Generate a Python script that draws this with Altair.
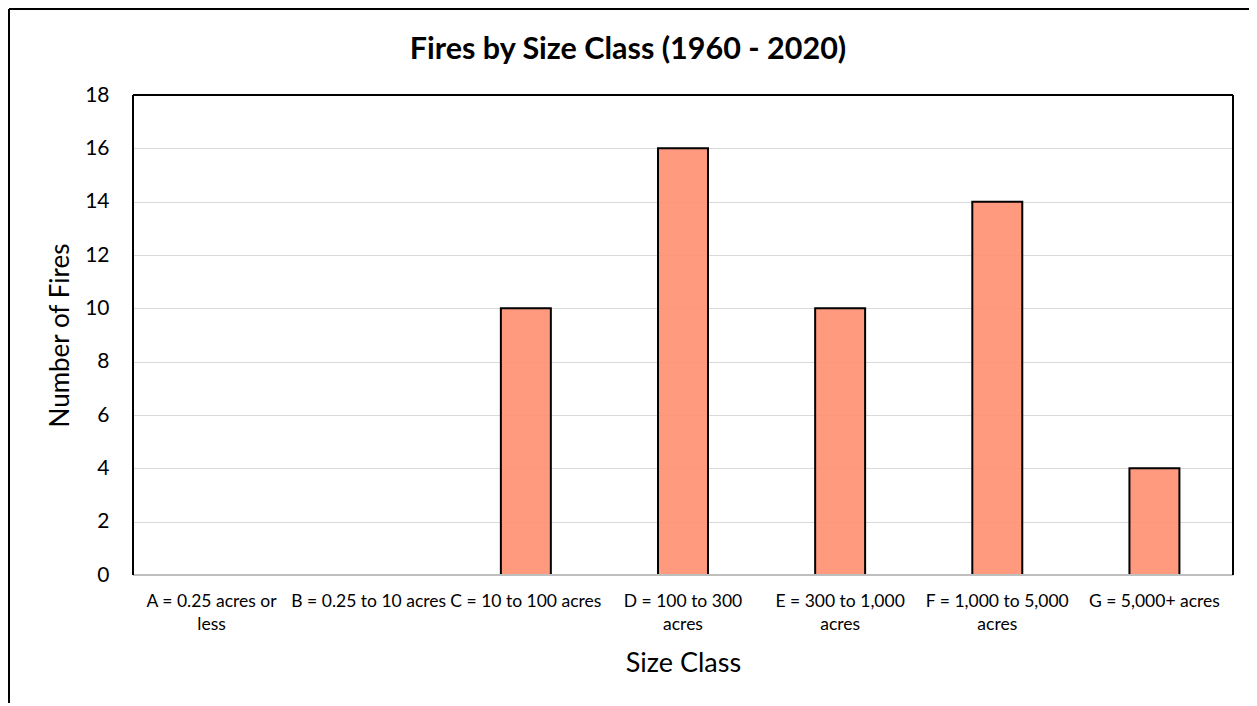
import json
import altair as alt
import pandas as pd

categories = [
    "A = 0.25 acres or less",
    "B = 0.25 to 10 acres",
    "C = 10 to 100 acres",
    "D = 100 to 300 acres",
    "E = 300 to 1,000 acres",
    "F = 1,000 to 5,000 acres",
    "G = 5,000+ acres",
]
label_lines = [
    ["A = 0.25 acres or", "less"],
    ["B = 0.25 to 10 acres"],
    ["C = 10 to 100 acres"],
    ["D = 100 to 300", "acres"],
    ["E = 300 to 1,000", "acres"],
    ["F = 1,000 to 5,000", "acres"],
    ["G = 5,000+ acres"],
]
fires = [0, 0, 10, 16, 10, 14, 4]
y_ticks = list(range(0, 19, 2))

df = pd.DataFrame({"Size Class": categories, "Number of Fires": fires})

expr = "datum.value"
for cat, lines in reversed(list(zip(categories, label_lines))):
    expr = f"datum.value == {json.dumps(cat)} ? {json.dumps(lines)} : ({expr})"

FONT = "Lato"
W, H = 1100, 480

x_enc = alt.X(
    "Size Class:N",
    sort=categories,
    scale=alt.Scale(paddingInner=0.682, paddingOuter=0.341),
    axis=alt.Axis(
        title="Size Class",
        labelAngle=0,
        labelExpr=expr,
        labelFontSize=17.5,
        labelFont=FONT,
        labelColor="#000000",
        labelPadding=17,
        labelLineHeight=23,
        labelLimit=400,
        labelOverlap=False,
        ticks=False,
        domain=False,
        titleFontSize=27,
        titleFont=FONT,
        titleFontWeight="normal",
        titleColor="#000000",
        titleX=W / 2,
        titleY=96,
        titleBaseline="alphabetic",
        titleAlign="center",
    ),
)
y_enc = alt.Y(
    "Number of Fires:Q",
    scale=alt.Scale(domain=[0, 18], nice=False),
    axis=alt.Axis(
        title="Number of Fires",
        values=y_ticks,
        labelFontSize=21,
        labelFont=FONT,
        labelColor="#000000",
        labelPadding=24,
        ticks=False,
        domain=False,
        grid=True,
        gridColor="#D9D9D9",
        gridWidth=1,
        titleFontSize=26,
        titleFont=FONT,
        titleFontWeight="normal",
        titleColor="#000000",
        titleAngle=-90,
        titleX=-65,
        titleY=H / 2,
        titleBaseline="alphabetic",
        titleAlign="center",
    ),
)

bars = alt.Chart(df).mark_bar(
    fill="#FF8F70", fillOpacity=0.9, stroke="#000000", strokeWidth=2
).encode(x=x_enc, y=y_enc)

baseline = alt.Chart(pd.DataFrame({"z": [0]})).mark_rule(
    color="#BFBFBF", strokeWidth=2
).encode(y=alt.datum(0))

frame = pd.DataFrame({"z": [0]})
black = dict(color="#000000", strokeWidth=2)
plot_top = alt.Chart(frame).mark_rule(**black).encode(
    x=alt.value(0), x2=alt.value(W), y=alt.value(0)
)
plot_left = alt.Chart(frame).mark_rule(**black).encode(
    x=alt.value(0), y=alt.value(0), y2=alt.value(H)
)
plot_right = alt.Chart(frame).mark_rule(**black).encode(
    x=alt.value(W), y=alt.value(0), y2=alt.value(H)
)
top_border = alt.Chart(frame).mark_rule(**black).encode(
    x=alt.value(-124), x2=alt.value(1116), y=alt.value(-86)
)
left_border = alt.Chart(frame).mark_rule(**black).encode(
    x=alt.value(-124), y=alt.value(-86), y2=alt.value(610)
)

chart = (
    alt.layer(bars, baseline, plot_top, plot_left, plot_right, top_border, left_border)
    .properties(
        width=W,
        height=H,
        autosize=alt.AutoSizeParams(type="none"),
        padding={"left": 125, "top": 87, "right": 16, "bottom": 128},
        background="#FFFFFF",
        title=alt.Title(
            "Fires by Size Class (1960 - 2020)",
            font=FONT,
            fontSize=30.5,
            fontWeight="bold",
            color="#000000",
            anchor="middle",
            baseline="alphabetic",
            dx=-55,
            offset=-81,
        ),
    )
    .configure_view(stroke=None)
)

chart.save("out.html", embed_options={"renderer": "svg", "actions": False})
